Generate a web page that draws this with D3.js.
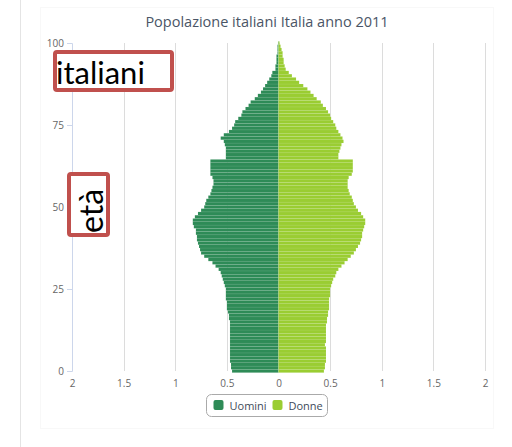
<!DOCTYPE html>
<html>
<head>
<meta charset="utf-8">
<script src="https://cdn.jsdelivr.net/npm/d3@7"></script>
<style>
  body { margin: 0; background: #fff; }
  svg { display: block; }
</style>
</head>
<body>
<div id="chart"></div>
<script>
// ages 0..100
var ages = d3.range(0, 101);
// Uomini (percent), age 0 -> 100
var uomini = [0.45, 0.46, 0.46, 0.47, 0.47, 0.47, 0.47, 0.47, 0.47, 0.47,
  0.47, 0.47, 0.47, 0.47, 0.47, 0.47, 0.48, 0.48, 0.49, 0.50,
  0.50, 0.50, 0.51, 0.51, 0.51, 0.51, 0.52, 0.53, 0.54, 0.55,
  0.56, 0.58, 0.61, 0.64, 0.68, 0.72, 0.75, 0.76, 0.77, 0.78,
  0.79, 0.79, 0.80, 0.80, 0.82, 0.83, 0.83, 0.81, 0.78, 0.75,
  0.72, 0.71, 0.70, 0.68, 0.66, 0.65, 0.64, 0.63, 0.63, 0.64,
  0.66, 0.66, 0.66, 0.66, 0.66, 0.51, 0.51, 0.51, 0.51, 0.52,
  0.53, 0.56, 0.53, 0.48, 0.45, 0.43, 0.42, 0.39, 0.36, 0.35,
  0.32, 0.29, 0.27, 0.23, 0.20, 0.17, 0.15, 0.13, 0.11, 0.09,
  0.07, 0.06, 0.03, 0.03, 0.02, 0.02, 0.02, 0.01, 0.01, 0.01, 0.005];
// Donne (percent), age 0 -> 100
var donne = [0.44, 0.45, 0.45, 0.46, 0.46, 0.46, 0.46, 0.46, 0.45, 0.46,
  0.46, 0.46, 0.46, 0.46, 0.46, 0.47, 0.47, 0.48, 0.48, 0.49,
  0.49, 0.49, 0.49, 0.50, 0.50, 0.50, 0.51, 0.52, 0.53, 0.55,
  0.56, 0.58, 0.61, 0.64, 0.67, 0.70, 0.73, 0.75, 0.77, 0.79,
  0.80, 0.81, 0.81, 0.82, 0.83, 0.84, 0.84, 0.82, 0.80, 0.77,
  0.75, 0.73, 0.72, 0.71, 0.69, 0.68, 0.67, 0.67, 0.67, 0.68,
  0.71, 0.72, 0.72, 0.72, 0.72, 0.58, 0.58, 0.59, 0.60, 0.61,
  0.63, 0.62, 0.60, 0.58, 0.56, 0.55, 0.53, 0.51, 0.50, 0.48,
  0.46, 0.43, 0.41, 0.37, 0.34, 0.31, 0.28, 0.24, 0.20, 0.17,
  0.13, 0.10, 0.07, 0.06, 0.05, 0.05, 0.04, 0.04, 0.03, 0.02, 0.01];
var xTicks = [-2, -1.5, -1, -0.5, 0, 0.5, 1, 1.5, 2];
var yTicks = [0, 25, 50, 75, 100];
var seriesNames = ["Uomini", "Donne"];
var seriesColors = ["#2e8b57", "#9acd32"];

var W = 512, H = 447;
var margin = { top: 43, right: 27, bottom: 76, left: 72 },
  width = W - margin.left - margin.right,
  height = H - margin.top - margin.bottom;

var svg = d3.select("#chart").append("svg")
  .attr("width", W)
  .attr("height", H);

// page frame
svg.append("line")
  .attr("x1", 20.5).attr("x2", 20.5).attr("y1", 0).attr("y2", H)
  .attr("stroke", "#e4e4e4");
svg.append("rect")
  .attr("x", 40.5).attr("y", 7.5).attr("width", 453).attr("height", 421)
  .attr("fill", "none").attr("stroke", "#f8f8f8");

var g = svg.append("g")
  .attr("transform", "translate(" + margin.left + "," + margin.top + ")");

var x = d3.scaleLinear().domain([-2, 2]).range([0, width]);
var y = d3.scaleLinear().domain([0, 100]).range([height, 0]);

// grid
g.selectAll(".grid")
  .data(xTicks.slice(1))
  .enter().append("line")
  .attr("class", "grid")
  .attr("x1", function (d) { return Math.round(x(d)) + 0.5; })
  .attr("x2", function (d) { return Math.round(x(d)) + 0.5; })
  .attr("y1", 0).attr("y2", height)
  .attr("stroke", "#dcdcdc");

// bars
var bh = y(0) - y(1);
g.selectAll(".bar-u")
  .data(ages)
  .enter().append("rect")
  .attr("class", "bar-u")
  .attr("x", function (d) { return x(-uomini[d]); })
  .attr("width", function (d) { return x(0) - x(-uomini[d]); })
  .attr("y", function (d) { return y(d) - bh / 2; })
  .attr("height", bh)
  .attr("fill", seriesColors[0])
  .attr("stroke", "rgba(255,255,255,0.18)")
  .attr("stroke-width", 0.4);

g.selectAll(".bar-d")
  .data(ages)
  .enter().append("rect")
  .attr("class", "bar-d")
  .attr("x", x(0))
  .attr("width", function (d) { return x(donne[d]) - x(0); })
  .attr("y", function (d) { return y(d) - bh / 2; })
  .attr("height", bh)
  .attr("fill", seriesColors[1])
  .attr("stroke", "rgba(255,255,255,0.18)")
  .attr("stroke-width", 0.4);

// x axis
var xAxis = g.append("g")
  .attr("transform", "translate(0," + height + ")")
  .call(d3.axisBottom(x).tickValues(xTicks).tickSize(0).tickPadding(9)
    .tickFormat(function (d) { return Math.abs(d); }));
xAxis.select(".domain").remove();
xAxis.selectAll("text")
  .attr("fill", "#666")
  .style("font-family", "'Open Sans', sans-serif")
  .style("font-size", "10px");

// y axis
var yAxis = g.append("g")
  .call(d3.axisLeft(y).tickValues(yTicks).tickSize(5).tickPadding(3));
yAxis.select(".domain").attr("stroke", "#ccd6eb");
yAxis.selectAll(".tick line").attr("stroke", "#ccd6eb");
yAxis.selectAll("text")
  .attr("fill", "#666")
  .style("font-family", "'Open Sans', sans-serif")
  .style("font-size", "10px");

// title
svg.append("text")
  .attr("x", 267)
  .attr("y", 27)
  .attr("text-anchor", "middle")
  .attr("fill", "#4a5566")
  .style("font-family", "'Open Sans', sans-serif")
  .style("font-size", "14.5px")
  .text("Popolazione italiani Italia anno 2011");

// legend
var legend = svg.append("g").attr("transform", "translate(206.5,394.5)");
legend.append("rect")
  .attr("width", 121).attr("height", 22).attr("rx", 5)
  .attr("fill", "#fff").attr("stroke", "#aaa");
var lx = [7, 66];
seriesNames.forEach(function (name, i) {
  legend.append("rect")
    .attr("x", lx[i]).attr("y", 5.5).attr("width", 10).attr("height", 10).attr("rx", 2)
    .attr("fill", seriesColors[i]);
  legend.append("text")
    .attr("x", lx[i] + 16).attr("y", 15)
    .attr("fill", "#3e4a5a")
    .style("font-family", "'Open Sans', sans-serif")
    .style("font-size", "11px")
    .text(name);
});

// annotation boxes
svg.append("rect")
  .attr("x", 55).attr("y", 52).attr("width", 117).attr("height", 38).attr("rx", 2)
  .attr("fill", "#fff").attr("stroke", "#c0504d").attr("stroke-width", 4);
svg.append("text")
  .attr("x", 56).attr("y", 84)
  .attr("fill", "#000")
  .style("font-family", "Lato, sans-serif")
  .style("font-size", "31px")
  .text("italiani");

svg.append("rect")
  .attr("x", 69).attr("y", 174).attr("width", 39).attr("height", 61).attr("rx", 2)
  .attr("fill", "#fff").attr("stroke", "#c0504d").attr("stroke-width", 4);
svg.append("text")
  .attr("transform", "translate(103,233) rotate(-90)")
  .attr("fill", "#000")
  .style("font-family", "Lato, sans-serif")
  .style("font-size", "32px")
  .text("età");
</script>
</body>
</html>
